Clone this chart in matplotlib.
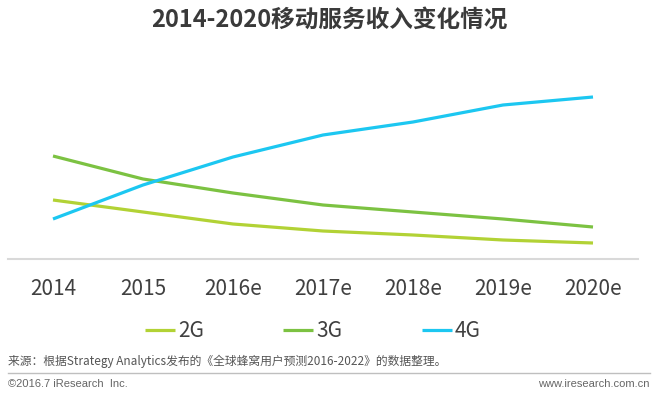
import matplotlib.pyplot as plt
import numpy as np

plt.rcParams['font.family'] = ['Noto Sans CJK SC', 'DejaVu Sans']

# 数据
years = ['2014', '2015', '2016e', '2017e', '2018e', '2019e', '2020e']
rev_2g = [59, 47, 35, 28, 24, 19, 16]
rev_3g = [103, 80, 66, 54, 47, 40, 32]
rev_4g = [40, 74, 102, 124, 137, 154, 162]

labels = ['2G', '3G', '4G']
colors = ['#b2d235', '#7cc242', '#1cc7f1']

fig = plt.figure(figsize=(6.58, 3.96), dpi=100)
ax = fig.add_axes([8 / 658, 137 / 396, 630 / 658, 220 / 396])

x = np.arange(len(years))
for vals, lab, col in zip([rev_2g, rev_3g, rev_4g], labels, colors):
    ax.plot(x, vals, color=col, lw=2.3, label=lab, solid_capstyle='butt')

ax.set_xlim(-0.5, 6.5)
ax.set_ylim(0, 220)
ax.set_xticks(x)
ax.set_xticklabels(years, fontsize=15, color='#404040')
ax.tick_params(axis='x', length=0, pad=14)
ax.set_yticks([])
for s in ['top', 'right', 'left']:
    ax.spines[s].set_visible(False)
ax.spines['bottom'].set_color('#d9d9d9')
ax.spines['bottom'].set_linewidth(1.5)

leg = ax.legend(loc='center', bbox_to_anchor=(0.484, -0.327), ncol=3, frameon=False,
                fontsize=15, handlelength=1.45, handletextpad=0.15,
                columnspacing=3.8, labelcolor='#404040')

# 标题
fig.text(0.5, 1 - 20 / 396, '2014-2020移动服务收入变化情况', ha='center', va='center',
         fontsize=17, fontweight='bold', color='#3a3a3a')

# 底部说明
fig.text(8 / 658, 1 - 361 / 396,
         '来源：根据Strategy Analytics发布的《全球蜂窝用户预测2016-2022》的数据整理。',
         ha='left', va='center', fontsize=8.5, color='#555555')
fig.add_artist(plt.Line2D([8 / 658, 650 / 658], [1 - 373 / 396, 1 - 373 / 396],
                          color='#bfbfbf', lw=1))
fig.text(8 / 658, 1 - 384 / 396, '©2016.7 iResearch  Inc.', ha='left', va='center',
         fontsize=8, color='#666666', family=['Liberation Sans', 'DejaVu Sans'])
fig.text(650 / 658, 1 - 384 / 396, 'www.iresearch.com.cn', ha='right', va='center',
         fontsize=8, color='#666666', family=['Liberation Sans', 'DejaVu Sans'])

fig.savefig('out.png', dpi=100)
